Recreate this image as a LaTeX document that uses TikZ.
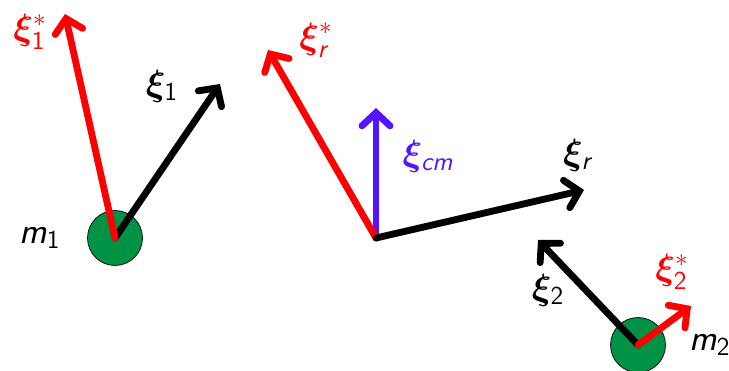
\documentclass[tikz,border=0pt]{standalone}
\usepackage{amsmath}
\usepackage{bm}
\usepackage{tikz}
\usetikzlibrary{positioning, arrows.meta}

\definecolor{massgreen}{RGB}{0,146,69}
\definecolor{cmblue}{RGB}{85,20,255}
% sans italic letters and sans digits, as in the slide font
\newcommand{\sfl}[1]{\textsf{\itshape #1}}
\newcommand{\sfd}[1]{\textsf{#1}}
\newcommand{\vxi}{\bm{\xi}}

\begin{document}
\begin{tikzpicture}[
			x=0.02cm, y=-0.02cm,
			mass/.style={circle, draw=black, fill=massgreen, thin, minimum size=1.1cm, inner sep=0pt},
			vec/.style={-{Straight Barb[length=7.5pt, width=16pt, line cap=round]}, line width=3.9pt, line cap=round},
			lab/.style={font=\fontsize{21}{24}\selectfont}
			]
			\useasboundingbox (0,0) rectangle (729,371);
			
			% masses and centre of mass
			\node[mass] (mone) at (115,238) {};
			\node[mass] (mtwo) at (638,345) {};
			\coordinate (cm) at (376,238);
			
			% arrow tips
			\coordinate (tonestar) at (65,14);
			\coordinate (tone) at (220,84);
			\coordinate (trstar) at (268,50);
			\coordinate (tcm) at (376,108);
			\coordinate (tr) at (584,190);
			\coordinate (ttwo) at (538,240);
			\coordinate (ttwostar) at (691,306);
			
			% vectors at m1
			\draw[vec, black] (mone.center) -- (tone);
			\draw[vec, red] (mone.center) -- (tonestar);
			
			% vectors at the centre of mass
			\draw[vec, cmblue] (cm) -- (tcm);
			\draw[vec, red] (cm) -- (trstar);
			\draw[vec, black] (cm) -- (tr);
			
			% vectors at m2
			\draw[vec, black] (mtwo.center) -- (ttwo);
			\draw[vec, red] (mtwo.center) -- (ttwostar);
			
			% labels
			\node[lab, text=red] (lonestar) at (30,32) {$\vxi_{\sfd{1}}^*$};
			\node[lab] (lone) at (162,86) {$\vxi_{\sfd{1}}$};
			\node[lab] (lmone) at (40,238) {\sfl{m}$_{\sfd{1}}$};
			\node[lab, text=red] (lrstar) at (316,40) {$\vxi_{\sfl{r}}^*$};
			\node[lab, text=cmblue] (lcm) at (428,156) {$\vxi_{\sfl{cm}}$};
			\node[lab] (lr) at (577,155) {$\vxi_{\sfl{r}}$};
			\node[lab] (ltwo) at (548,290) {$\vxi_{\sfd{2}}$};
			\node[lab, text=red] (ltwostar) at (672,272) {$\vxi_{\sfd{2}}^*$};
			\node[lab, anchor=west, inner sep=0pt] (lmtwo) at (689,345) {\sfl{m}$_{\sfd{2}}$};
		\end{tikzpicture}
\end{document}
